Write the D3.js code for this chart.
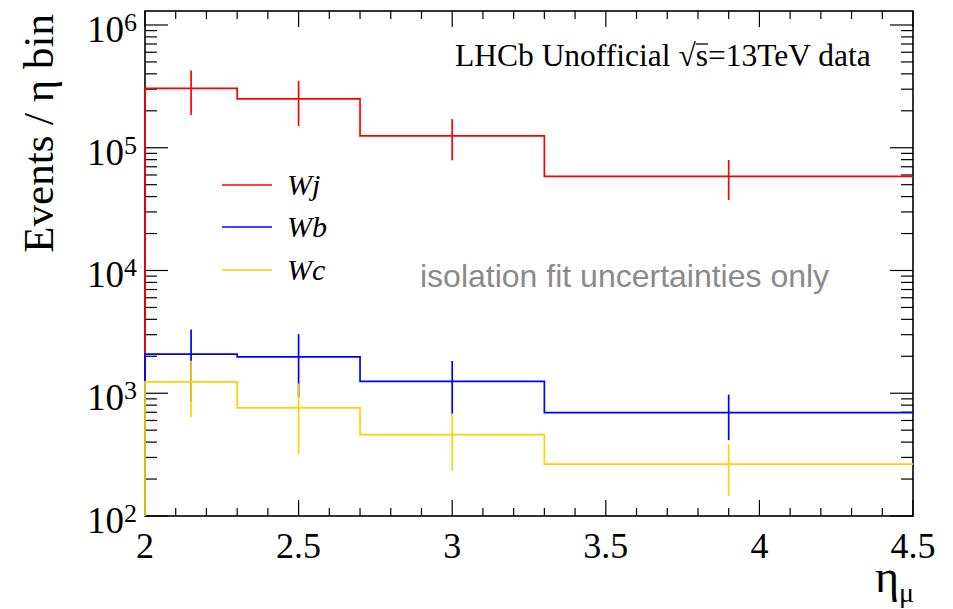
<!DOCTYPE html>
<html>
<head>
<meta charset="utf-8">
<script src="https://cdn.jsdelivr.net/npm/d3@7"></script>
<style>
  body { margin: 0; background: #fff; }
  svg { display: block; }
  text { font-family: "Liberation Serif", "Times New Roman", serif; fill: #000; }
</style>
</head>
<body>
<svg id="chart" width="953" height="609"></svg>
<script>
// bin edges in eta
const binEdges = [2, 2.3, 2.7, 3.3, 4.5];

// events per bin
const wjValues = [3.05e5, 2.5e5, 1.25e5, 5.85e4];
const wjErrors = [1.2e5, 1.0e5, 4.6e4, 2.1e4];
const wbValues = [2.08e3, 1.98e3, 1.25e3, 6.95e2];
const wbErrors = [1.22e3, 1.05e3, 5.8e2, 2.8e2];
const wcValues = [1.24e3, 7.6e2, 4.6e2, 2.65e2];
const wcErrors = [6.0e2, 4.4e2, 2.25e2, 1.2e2];

const seriesNames = ["Wj", "Wb", "Wc"];
const seriesColors = ["#ff0000", "#0000ff", "#ffd200"];

const xTickValues = [2, 2.5, 3, 3.5, 4, 4.5];
const xTickLabels = ["2", "2.5", "3", "3.5", "4", "4.5"];
const yExponents = [2, 3, 4, 5, 6];

const series = [
  {name: seriesNames[0], values: wjValues, errors: wjErrors, color: seriesColors[0]},
  {name: seriesNames[1], values: wbValues, errors: wbErrors, color: seriesColors[1]},
  {name: seriesNames[2], values: wcValues, errors: wcErrors, color: seriesColors[2]}
];

const pLeft = 145, pRight = 913, pTop = 11, pBottom = 516;

const xScale = d3.scaleLinear([2, 4.5], [pLeft, pRight]);
const yScale = d3.scaleLog([100, Math.pow(10, 6.114)], [pBottom, pTop]);

const svg = d3.select("#chart");

svg.append("defs").append("clipPath")
    .attr("id", "plotClip")
  .append("rect")
    .attr("x", pLeft - 2)
    .attr("y", pTop)
    .attr("width", pRight - pLeft + 2)
    .attr("height", pBottom - pTop);

// ticks on all four sides
const minorX = d3.range(20, 46).map(d => d / 10).filter(d => !xTickValues.some(t => Math.abs(t - d) < 1e-9));
const minorY = [];
yExponents.forEach(e => {
    for (let m = 2; m <= 9; m++){
        const v = m * Math.pow(10, e);
        if (v <= yScale.domain()[1]) minorY.push(v);
    }
});

const tickG = svg.append("g").attr("stroke", "#000").attr("stroke-width", 1.2);

function xTicks(vals, len){
    vals.forEach(v => {
        tickG.append("line")
            .attr("x1", xScale(v)).attr("x2", xScale(v))
            .attr("y1", pBottom).attr("y2", pBottom - len);
        tickG.append("line")
            .attr("x1", xScale(v)).attr("x2", xScale(v))
            .attr("y1", pTop).attr("y2", pTop + len);
    });
}
function yTicks(vals, len){
    vals.forEach(v => {
        tickG.append("line")
            .attr("x1", pLeft).attr("x2", pLeft + len)
            .attr("y1", yScale(v)).attr("y2", yScale(v));
        tickG.append("line")
            .attr("x1", pRight).attr("x2", pRight - len)
            .attr("y1", yScale(v)).attr("y2", yScale(v));
    });
}
xTicks(xTickValues, 16);
xTicks(minorX, 8);
yTicks(yExponents.map(e => Math.pow(10, e)), 23);
yTicks(minorY, 12);

// frame
svg.append("rect")
    .attr("x", pLeft).attr("y", pTop)
    .attr("width", pRight - pLeft).attr("height", pBottom - pTop)
    .attr("fill", "none")
    .attr("stroke", "#000")
    .attr("stroke-width", 1.6);

// histograms, drawn over the frame like ROOT does
const histLine = d3.line().x(d => xScale(d[0])).y(d => yScale(d[1]));

const plotG = svg.append("g").attr("clip-path", "url(#plotClip)");

series.forEach(s => {
    const pts = [[binEdges[0], 50]];
    s.values.forEach((v, i) => {
        pts.push([binEdges[i], v]);
        pts.push([binEdges[i + 1], v]);
    });
    plotG.append("path")
        .attr("d", histLine(pts))
        .attr("fill", "none")
        .attr("stroke", s.color)
        .attr("stroke-width", 1.7);

    s.values.forEach((v, i) => {
        const cx = xScale((binEdges[i] + binEdges[i + 1]) / 2);
        plotG.append("line")
            .attr("x1", cx).attr("x2", cx)
            .attr("y1", yScale(v + s.errors[i]))
            .attr("y2", yScale(Math.max(v - s.errors[i], 1)))
            .attr("stroke", s.color)
            .attr("stroke-width", 1.7);
    });
});

// x tick labels
xTickValues.forEach((v, i) => {
    svg.append("text")
        .attr("x", xScale(v))
        .attr("y", 558)
        .attr("text-anchor", "middle")
        .attr("font-size", 36)
        .text(xTickLabels[i]);
});

// y tick labels
yExponents.forEach(e => {
    const t = svg.append("text")
        .attr("x", 137)
        .attr("y", yScale(Math.pow(10, e)) + 17)
        .attr("text-anchor", "end")
        .attr("font-size", 37);
    t.append("tspan").text("10");
    t.append("tspan").attr("dy", -11).attr("font-size", 26).text(e);
});

// axis titles
svg.append("text")
    .attr("transform", "translate(53, 14) rotate(-90)")
    .attr("text-anchor", "end")
    .attr("font-size", 43)
    .text("Events / η bin");

const xt = svg.append("text")
    .attr("x", 914)
    .attr("y", 592)
    .attr("text-anchor", "end")
    .attr("font-size", 46);
xt.append("tspan").text("η");
xt.append("tspan").attr("dy", 10).attr("font-size", 28).text("μ");

// legend
series.forEach((s, i) => {
    const ly = [185, 227, 270][i];
    svg.append("line")
        .attr("x1", 222).attr("x2", 272)
        .attr("y1", ly).attr("y2", ly)
        .attr("stroke", s.color)
        .attr("stroke-width", 1.7);
    svg.append("text")
        .attr("x", 287)
        .attr("y", ly + 10)
        .attr("font-size", 30)
        .attr("font-style", "italic")
        .text(s.name);
});

// labels
const lab = svg.append("text")
    .attr("x", 455)
    .attr("y", 66)
    .attr("font-size", 31.5);
lab.append("tspan").text("LHCb Unofficial ");
lab.append("tspan").text("√");
const sSpan = lab.append("tspan").text("s");
lab.append("tspan").text("=13TeV data");
const sb = sSpan.node().getExtentOfChar(0);
svg.append("line")
    .attr("x1", sb.x).attr("x2", sb.x + sb.width)
    .attr("y1", 44).attr("y2", 44)
    .attr("stroke", "#000").attr("stroke-width", 1.3);

svg.append("text")
    .attr("x", 420)
    .attr("y", 287)
    .attr("font-size", 32)
    .style("font-family", "'Liberation Sans', Arial, sans-serif")
    .style("fill", "#8a8a8a")
    .text("isolation fit uncertainties only");
</script>
</body>
</html>
